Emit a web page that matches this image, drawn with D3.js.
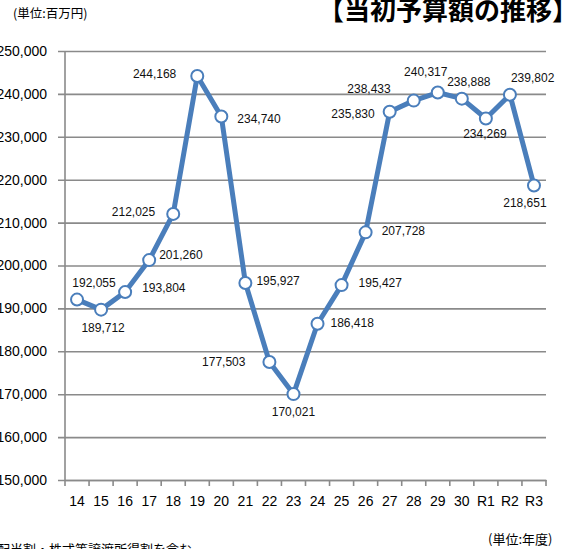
<!DOCTYPE html>
<html><head><meta charset="utf-8">
<script src="https://cdn.jsdelivr.net/npm/d3@7"></script>
<style>body{margin:0;background:#fff;}svg{display:block;}</style>
</head><body>
<svg id="c" width="577" height="549"></svg>
<script>
const categories = ["14","15","16","17","18","19","20","21","22","23","24","25","26","27","28","29","30","R1","R2","R3"];
const values = [192055,189712,193804,201260,212025,244168,234740,195927,177503,170021,186418,195427,207728,235830,238433,240317,238888,234269,239802,218651];
const yTicks = [150000,160000,170000,180000,190000,200000,210000,220000,230000,240000,250000];
// label placement per point: [anchor, dx, dy]
const labelPlace = [
 ["middle",17,-17],["middle",2,18],["start",17,-4],["start",10,-5],["end",-18,-2],
 ["end",-21,-2],["start",16,2],["start",11,-2],["end",-24,0],["middle",0,18],
 ["start",13,-1],["start",17,-2],["start",16,-2],["end",-15,2],["end",-23,-12],
 ["middle",-12,-21],["middle",7,-17],["middle",-1,15],["start",1,-17],["middle",-9,17]
];

(function(){
const svg = d3.select("#c");
const mL = 65, mR = 546, mT = 51, mB = 480;
const x = d3.scaleBand().domain(categories).range([mL,mR]);
const y = d3.scaleLinear().domain([150000,250000]).range([mB,mT]);
const grid = "#8a8a8a";
const fmt = d3.format(",");

// gridlines + y axis
const yAxis = d3.axisLeft(y).tickValues(yTicks).tickFormat(fmt).tickSize(-(mR-mL)).tickSizeOuter(0);
const gy = svg.append("g").attr("transform",`translate(${mL},0)`).call(yAxis);
gy.select(".domain").remove();
gy.selectAll(".tick line").attr("stroke",grid).attr("stroke-width",1.6).attr("x1",-7);
gy.selectAll(".tick text").attr("x",-18).attr("fill","#000")
  .style("font-family","'Liberation Sans',Arial,sans-serif").style("font-size","14px");

// vertical axis line
svg.append("line").attr("x1",mL).attr("x2",mL).attr("y1",mT).attr("y2",mB)
  .attr("stroke",grid).attr("stroke-width",1.6);

// x axis
const gx = svg.append("g").attr("transform",`translate(0,${mB})`)
  .call(d3.axisBottom(x).tickSize(0).tickSizeOuter(0));
gx.select(".domain").attr("stroke",grid).attr("stroke-width",1.6);
gx.selectAll(".tick text").attr("y",16).attr("dy","0.71em").attr("fill","#000")
  .style("font-family","'Liberation Sans',Arial,sans-serif").style("font-size","14px");
// tick marks at band boundaries
const bounds = categories.map(c => x(c)).concat([x(categories[categories.length-1]) + x.bandwidth()]);
svg.append("g").selectAll("line").data(bounds).join("line")
  .attr("x1",d=>d).attr("x2",d=>d).attr("y1",mB).attr("y2",mB+6)
  .attr("stroke",grid).attr("stroke-width",1.6);

const cx = (d,i) => x(categories[i]) + x.bandwidth()/2;
const line = d3.line().x((d,i)=>cx(d,i)).y(d=>y(d));
svg.append("path").datum(values).attr("d",line).attr("fill","none")
  .attr("stroke","#4a7ebb").attr("stroke-width",5).attr("stroke-linejoin","round");
svg.append("g").selectAll("circle").data(values).join("circle")
  .attr("cx",cx).attr("cy",d=>y(d)).attr("r",6).attr("fill","#fff")
  .attr("stroke","#4a7ebb").attr("stroke-width",2);

svg.append("g").selectAll("text").data(values).join("text")
  .attr("x",(d,i)=>cx(d,i)+labelPlace[i][1]).attr("y",(d,i)=>y(d)+labelPlace[i][2])
  .attr("dy","0.35em").attr("text-anchor",(d,i)=>labelPlace[i][0])
  .attr("fill","#111").style("font-family","'Liberation Sans',Arial,sans-serif").style("font-size","12px")
  .text(d=>fmt(d));

const jp = "'Noto Sans CJK JP','Noto Sans',sans-serif";
svg.append("text").attr("x",13).attr("y",18).style("font-family",jp).style("font-size","12.5px").attr("fill","#000").text("(単位:百万円)");
svg.append("text").attr("x",318).attr("y",20).style("font-family",jp).style("font-size","26px").style("font-weight","bold").attr("fill","#000").text("【当初予算額の推移】");
svg.append("text").attr("x",488).attr("y",544).style("font-family",jp).style("font-size","13px").attr("fill","#000").text("(単位:年度)");
svg.append("text").attr("x",-3).attr("y",554).style("font-family",jp).style("font-size","13px").attr("fill","#000").text("配当割・株式等譲渡所得割を含む");
})();
</script>
</body></html>
